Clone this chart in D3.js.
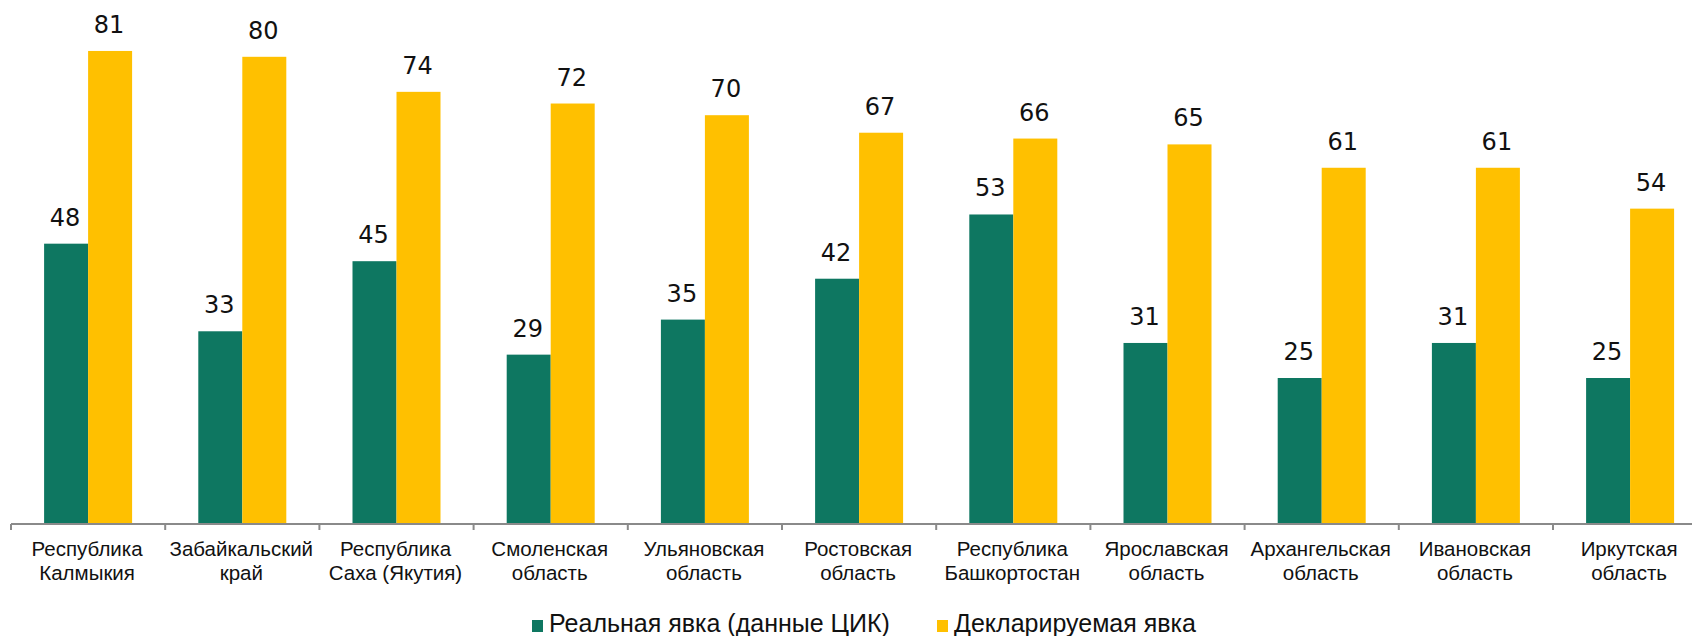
<!DOCTYPE html>
<html>
<head>
<meta charset="utf-8">
<script src="https://cdn.jsdelivr.net/npm/d3@7"></script>
<style>
  html, body { margin: 0; padding: 0; background: #fff; overflow: hidden; }
  svg { display: block; }
</style>
</head>
<body>
<svg id="chart" width="1692" height="636"></svg>
<script>
const categories = [
  "Республика\nКалмыкия",
  "Забайкальский\nкрай",
  "Республика\nСаха (Якутия)",
  "Смоленская\nобласть",
  "Ульяновская\nобласть",
  "Ростовская\nобласть",
  "Республика\nБашкортостан",
  "Ярославская\nобласть",
  "Архангельская\nобласть",
  "Ивановская\nобласть",
  "Иркутская\nобласть"
];
const seriesNames = ["Реальная явка (данные ЦИК)", "Декларируемая явка"];
const realTurnout = [48, 33, 45, 29, 35, 42, 53, 31, 25, 31, 25];
const declaredTurnout = [81, 80, 74, 72, 70, 67, 66, 65, 61, 61, 54];
const colors = ["#0E7761", "#FFC000"];

const svg = d3.select("#chart");
const left = 11, step = 154.2, base = 524, barW = 44;

const x0 = d3.scaleBand().domain(categories).range([left, left + step * categories.length]).padding(0);
const pOuter = (x0.bandwidth() / barW - 2) / 2;
const x1 = d3.scaleBand().domain(seriesNames).range([0, x0.bandwidth()]).paddingInner(0).paddingOuter(pOuter);
const y = d3.scaleLinear().domain([0, 90]).range([base, base - 5.84 * 90]);

const data = categories.map((c, i) => ({ cat: c, vals: [realTurnout[i], declaredTurnout[i]] }));

const groups = svg.append("g").selectAll("g").data(data).join("g")
  .attr("transform", d => `translate(${x0(d.cat)},0)`);

groups.selectAll("rect").data(d => d.vals.map((v, k) => ({ v, k }))).join("rect")
  .attr("x", d => x1(seriesNames[d.k]))
  .attr("width", x1.bandwidth())
  .attr("y", d => y(d.v))
  .attr("height", d => y(0) - y(d.v))
  .attr("fill", d => colors[d.k]);

groups.selectAll("text.val").data(d => d.vals.map((v, k) => ({ v, k }))).join("text")
  .attr("class", "val")
  .attr("x", d => x1(seriesNames[d.k]) + x1.bandwidth() / 2 - 1)
  .attr("y", d => y(d.v) - 18)
  .attr("text-anchor", "middle")
  .attr("font-family", "DejaVu Sans, Verdana, sans-serif")
  .attr("font-size", 24)
  .attr("fill", "#111")
  .text(d => d.v);

// axis
const axis = svg.append("g").attr("transform", `translate(0,${base})`);
axis.append("line")
  .attr("x1", left).attr("x2", left + step * categories.length)
  .attr("y1", 0).attr("y2", 0)
  .attr("stroke", "#8a8a8a").attr("stroke-width", 2);
const boundaries = categories.map(c => x0(c)).concat([x0.range()[1]]);
axis.selectAll("line.tick").data(boundaries).join("line")
  .attr("class", "tick")
  .attr("x1", d => d).attr("x2", d => d)
  .attr("y1", 0).attr("y2", 6)
  .attr("stroke", "#8a8a8a").attr("stroke-width", 2);

const labels = axis.selectAll("text.lab").data(categories).join("text")
  .attr("class", "lab")
  .attr("x", d => x0(d) + x0.bandwidth() / 2 - 1)
  .attr("y", 31.7)
  .attr("text-anchor", "middle")
  .attr("font-family", "Liberation Sans, Arial, sans-serif")
  .attr("font-size", 20.5)
  .attr("fill", "#111");
labels.selectAll("tspan").data(d => d.split("\n")).join("tspan")
  .attr("x", function() { return d3.select(this.parentNode).attr("x"); })
  .attr("dy", (d, i) => i === 0 ? 0 : 24.3)
  .text(d => d);

// legend
const legendX = [532, 937];
const legend = svg.append("g");
seriesNames.forEach((s, i) => {
  legend.append("rect")
    .attr("x", legendX[i]).attr("y", 620)
    .attr("width", 11).attr("height", 12)
    .attr("fill", colors[i]);
  legend.append("text")
    .attr("x", legendX[i] + 17).attr("y", 632)
    .attr("font-family", "Liberation Sans, Arial, sans-serif")
    .attr("font-size", 25)
    .attr("fill", "#111")
    .text(s);
});
</script>
</body>
</html>
